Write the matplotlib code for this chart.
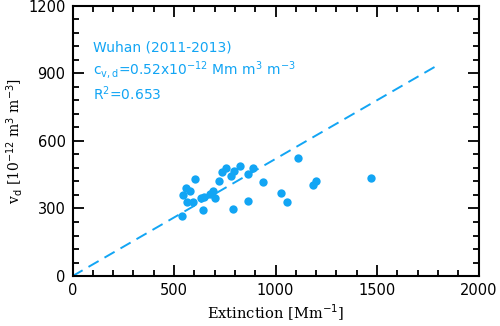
import matplotlib
matplotlib.use("Agg")
import matplotlib.pyplot as plt
import numpy as np
from matplotlib.ticker import MultipleLocator

extinction = [541, 544, 557, 563, 580, 593, 603, 634, 642, 647, 678, 694, 704, 724,
              737, 756, 782, 789, 795, 824, 864, 864, 890, 936, 1026, 1059,
              1111, 1185, 1201, 1468]
vd = [267, 360, 390, 330, 379, 327, 429, 345, 293, 352, 364, 376, 348, 423,
      463, 478, 444, 298, 465, 488, 453, 334, 478, 418, 367, 330,
      526, 405, 423, 435]
slope = 0.52
line_x = [0, 1800]

color = '#12A5F4'

fig = plt.figure(figsize=(5.0, 3.26), dpi=100)
ax = fig.add_axes([0.145, 0.153, 0.812, 0.830])

ax.plot(line_x, [slope * v for v in line_x], ls=(0, (6, 3.5)), color=color, lw=1.4)
ax.plot(extinction, vd, 'o', color=color, ms=6, mec='none')

ax.set_xlim(0, 2000)
ax.set_ylim(0, 1200)
ax.xaxis.set_major_locator(MultipleLocator(500))
ax.xaxis.set_minor_locator(MultipleLocator(100))
ax.yaxis.set_major_locator(MultipleLocator(300))
ax.yaxis.set_minor_locator(MultipleLocator(60))
ax.tick_params(which='both', direction='in', top=True, right=True, width=1.3,
               labelsize=10.5, pad=5)
ax.tick_params(which='major', length=8)
ax.tick_params(which='minor', length=4)
for s in ax.spines.values():
    s.set_linewidth(1.5)

ax.set_xlabel('Extinction [Mm$^{-1}$]', family='DejaVu Serif', fontsize=10.5, labelpad=3)
ax.set_ylabel('v$_{\\rm d}$ [10$^{-12}$ m$^3$ m$^{-3}$]', family='DejaVu Serif', fontsize=10, labelpad=2)

tx = 100
ax.text(tx, 1016, 'Wuhan (2011-2013)', color=color, fontsize=10, va='center')
ax.text(tx, 914, 'c$_{\\rm v,d}$=0.52x10$^{-12}$ Mm m$^3$ m$^{-3}$', color=color, fontsize=10, va='center')
ax.text(tx, 807, 'R$^2$=0.653', color=color, fontsize=10, va='center')

fig.savefig('out.png', dpi=100)
